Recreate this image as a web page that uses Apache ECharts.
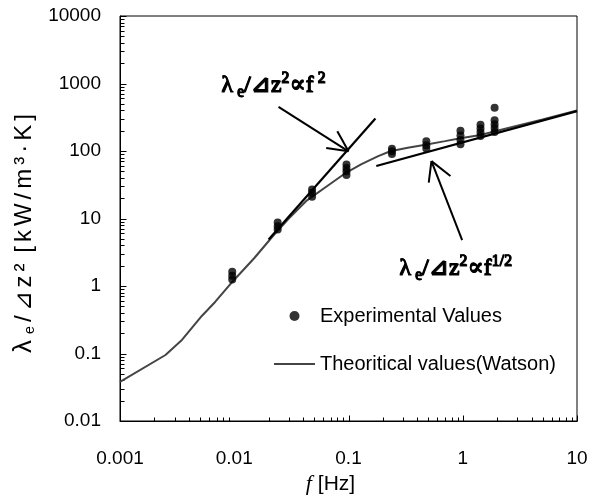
<!DOCTYPE html>
<html><head><meta charset="utf-8">
<script src="https://cdn.jsdelivr.net/npm/echarts@6/dist/echarts.min.js"></script>
<style>html,body{margin:0;padding:0;background:#fff}#c{width:599px;height:500px}</style>
</head><body><div id="c"></div>
<script>
// ---- data ----
const xTickValues = [0.001, 0.01, 0.1, 1, 10];
const xTickLabels = ['0.001', '0.01', '0.1', '1', '10'];
const yTickValues = [0.01, 0.1, 1, 10, 100, 1000, 10000];
const yTickLabels = ['0.01', '0.1', '1', '10', '100', '1000', '10000'];
const minorMultipliers = [2, 3, 4, 5, 6, 7, 8, 9];

const expF = [0.0096,0.0096,0.0096, 0.024,0.024,0.024, 0.048,0.048,0.048,
              0.096,0.096,0.096,0.096, 0.24,0.24,0.24, 0.48,0.48,0.48,
              0.955,0.955,0.955,0.955, 1.43,1.43,1.43,1.43, 1.9,1.9,1.9,1.9,1.9];
const expV = [1.25,1.42,1.62, 6.9,7.7,8.7, 21,24,27,
              44,50,56,63, 90,99,108, 109,122,139,
              126,145,170,200, 167,190,215,245, 191,220,250,286,439];

const theoryF = [0.001,0.0025,0.0035,0.0052,0.0068,0.0092,0.015,0.022,0.03,0.0433,0.07,0.0957,0.13,0.182,0.232,0.33,0.471,0.7,0.955,1.43,2,5,10];
const theoryV = [0.038,0.095,0.16,0.36,0.58,1.06,2.6,5.6,10,18.6,33,48,64,84,99,112,124,140,155,173,199,294,397];

const slope2F = [0.02, 0.172];
const slope2V = [4.9, 303];
const slopeHalfF = [0.175, 10];
const slopeHalfV = [60, 390];

// annotation arrows: [tail, tip, arm1, arm2]
const arrow1F = [0.0244, 0.1, 0.0798, 0.0638];
const arrow1V = [450, 99, 196, 110.6];
const arrow2F = [0.988, 0.532, 0.504, 0.78];
const arrow2V = [4.8, 70.8, 34.1, 42.7];

// ---- chart ----
const zip = (a, b) => a.map((v, i) => [v, b[i]]);
const labelFor = (vals, labels) => function (v) {
  const n = Number(v);
  for (let i = 0; i < vals.length; i++) {
    if (Math.abs(Math.log10(vals[i]) - Math.log10(n)) < 1e-6) return labels[i];
  }
  return '';
};
const xMin = xTickValues[0], yMin = yTickValues[0];
const minorsOf = decades => decades.slice(0, -1).flatMap(d => minorMultipliers.map(m => d * m));
const xMinor = minorsOf(xTickValues), yMinor = minorsOf(yTickValues);

const sans = "'Liberation Sans', Arial, Helvetica, sans-serif";
const serif = "'Liberation Serif', 'DejaVu Serif', 'Times New Roman', serif";

const arrowSegs = (F, V) => [
  [{coord: [F[0], V[0]]}, {coord: [F[1], V[1]]}],
  [{coord: [F[1], V[1]]}, {coord: [F[2], V[2]]}],
  [{coord: [F[1], V[1]]}, {coord: [F[3], V[3]]}]
];

const richAnno = {
  m: {fontFamily: serif, fontSize: 24, fill: '#000', lineHeight: 30, verticalAlign: 'middle'},
  b: {fontFamily: serif, fontSize: 16, fill: '#000', lineHeight: 30, verticalAlign: 'bottom'},
  p: {fontFamily: serif, fontSize: 16, fill: '#000', lineHeight: 30, verticalAlign: 'top'}
};
const annotationTexts = [
  {type: 'text', left: 221, top: 70, silent: true, style: {
    text: '{m|λ}{b| e}{m|/⊿z}{p|2}{m|∝f}{p| 2}', rich: richAnno}},
  {type: 'text', left: 399, top: 253, silent: true, style: {
    text: '{m|λ}{b| e}{m|/⊿z}{p|2}{m|∝f}{p|1/2}', rich: richAnno}}
];

const chart = echarts.init(document.getElementById('c'), null, {renderer: 'canvas'});
chart.setOption({
  animation: false,
  backgroundColor: '#fff',
  grid: {left: 120, right: 22, top: 16, bottom: 73, show: true, borderColor: '#000', borderWidth: 1, containLabel: false},
  xAxis: {
    type: 'log', logBase: 10, min: xMin, max: 10, splitNumber: 4,
    axisLine: {show: true, lineStyle: {color: '#000', width: 1}},
    axisTick: {show: false},
    splitLine: {show: false},
    axisLabel: {margin: 28, color: '#000', fontSize: 19, fontFamily: sans, formatter: labelFor(xTickValues, xTickLabels)},
    name: '{i|f}{n| [Hz]}', nameLocation: 'middle', nameGap: 52,
    nameTextStyle: {padding: [0, 36, 0, 0], rich: {
      i: {fontFamily: serif, fontStyle: 'italic', fontSize: 22, color: '#000'},
      n: {fontFamily: sans, fontSize: 21, color: '#000'}
    }}
  },
  yAxis: {
    type: 'log', logBase: 10, min: yMin, max: 10000, splitNumber: 6,
    axisLine: {show: true, lineStyle: {color: '#000', width: 1}},
    axisTick: {show: false},
    splitLine: {show: false},
    axisLabel: {margin: 19, color: '#000', fontSize: 19, fontFamily: sans, formatter: labelFor(yTickValues, yTickLabels)},
    name: '{l|λ}{s|e}{n|/}{n|⊿}{n|z}{n|²}{w| }{n|[}{n|k}{n|W}{n|/}{n|m}{n|³}{n|·}{n|K}{n|]}',
    nameLocation: 'middle', nameRotate: 90, nameGap: 80,
    nameTextStyle: {padding: [0, 28, 0, 0], rich: {
      l: {fontFamily: sans, fontSize: 26, color: '#000', lineHeight: 26, verticalAlign: 'middle', padding: [0, 4, 0, 0]},
      s: {fontFamily: sans, fontSize: 14, color: '#000', lineHeight: 26, verticalAlign: 'bottom', padding: [0, 2, 0, 2]},
      n: {fontFamily: sans, fontSize: 24, color: '#000', lineHeight: 26, verticalAlign: 'middle', padding: [0, 2, 0, 2]},
      w: {fontFamily: sans, fontSize: 24, color: '#000', lineHeight: 26, verticalAlign: 'middle'}
    }}
  },
  legend: {
    orient: 'vertical', left: 274, top: 306, padding: 0, itemWidth: 41, itemHeight: 10, itemGap: 28,
    textStyle: {color: '#000', fontSize: 20, fontFamily: sans},
    symbolKeepAspect: true,
    data: [
      {name: 'Experimental Values', icon: 'circle'},
      {name: 'Theoritical values(Watson)', icon: 'path://M0,0 L41,0 L41,2 L0,2 Z'}
    ],
    selectedMode: false
  },
  series: [
    {
      name: 'Theoritical values(Watson)', type: 'line', data: zip(theoryF, theoryV),
      showSymbol: false, symbol: 'none', smooth: false,
      lineStyle: {color: '#444', width: 2}, itemStyle: {color: '#444'}, silent: true, z: 2
    },
    {
      name: 'slope2', type: 'line', data: zip(slope2F, slope2V), showSymbol: false, symbol: 'none',
      lineStyle: {color: '#000', width: 2.2}, silent: true, z: 3,
      markLine: {
        silent: true, symbol: ['none', 'none'],
        label: {show: false}, lineStyle: {color: '#000', width: 2, type: 'solid'},
        emphasis: {disabled: true},
        data: arrowSegs(arrow1F, arrow1V).concat(arrowSegs(arrow2F, arrow2V))
      }
    },
    {
      name: 'slopeHalf', type: 'line', data: zip(slopeHalfF, slopeHalfV), showSymbol: false, symbol: 'none',
      lineStyle: {color: '#000', width: 2.2}, silent: true, z: 3
    },
    {
      name: 'Experimental Values', type: 'scatter', data: zip(expF, expV),
      symbol: 'circle', symbolSize: 8, itemStyle: {color: '#000'}, silent: true, z: 4
    }
  ],
  graphic: annotationTexts
});

// axis ticks (inside), positioned through the axes' own log scales; low z so they paint early
const px = v => chart.convertToPixel({xAxisIndex: 0}, v);
const py = v => chart.convertToPixel({yAxisIndex: 0}, v);
const crisp = v => Math.round(v) + 0.5;
const x0 = crisp(px(xMin)), y0 = crisp(py(yMin));
const tickLine = (x1, y1, x2, y2) => ({type: 'line', silent: true, z: 1,
  shape: {x1, y1, x2, y2}, style: {stroke: '#000', lineWidth: 1}});
const tickEls = [].concat(
  xTickValues.map(v => { const x = crisp(px(v)); return tickLine(x, y0, x, y0 - 6); }),
  xMinor.map(v => { const x = crisp(px(v)); return tickLine(x, y0, x, y0 - 4); }),
  yTickValues.map(v => { const y = crisp(py(v)); return tickLine(x0, y, x0 + 6, y); }),
  yMinor.map(v => { const y = crisp(py(v)); return tickLine(x0, y, x0 + 4, y); })
);
chart.setOption({graphic: tickEls.concat(annotationTexts)});
</script>
</body></html>
